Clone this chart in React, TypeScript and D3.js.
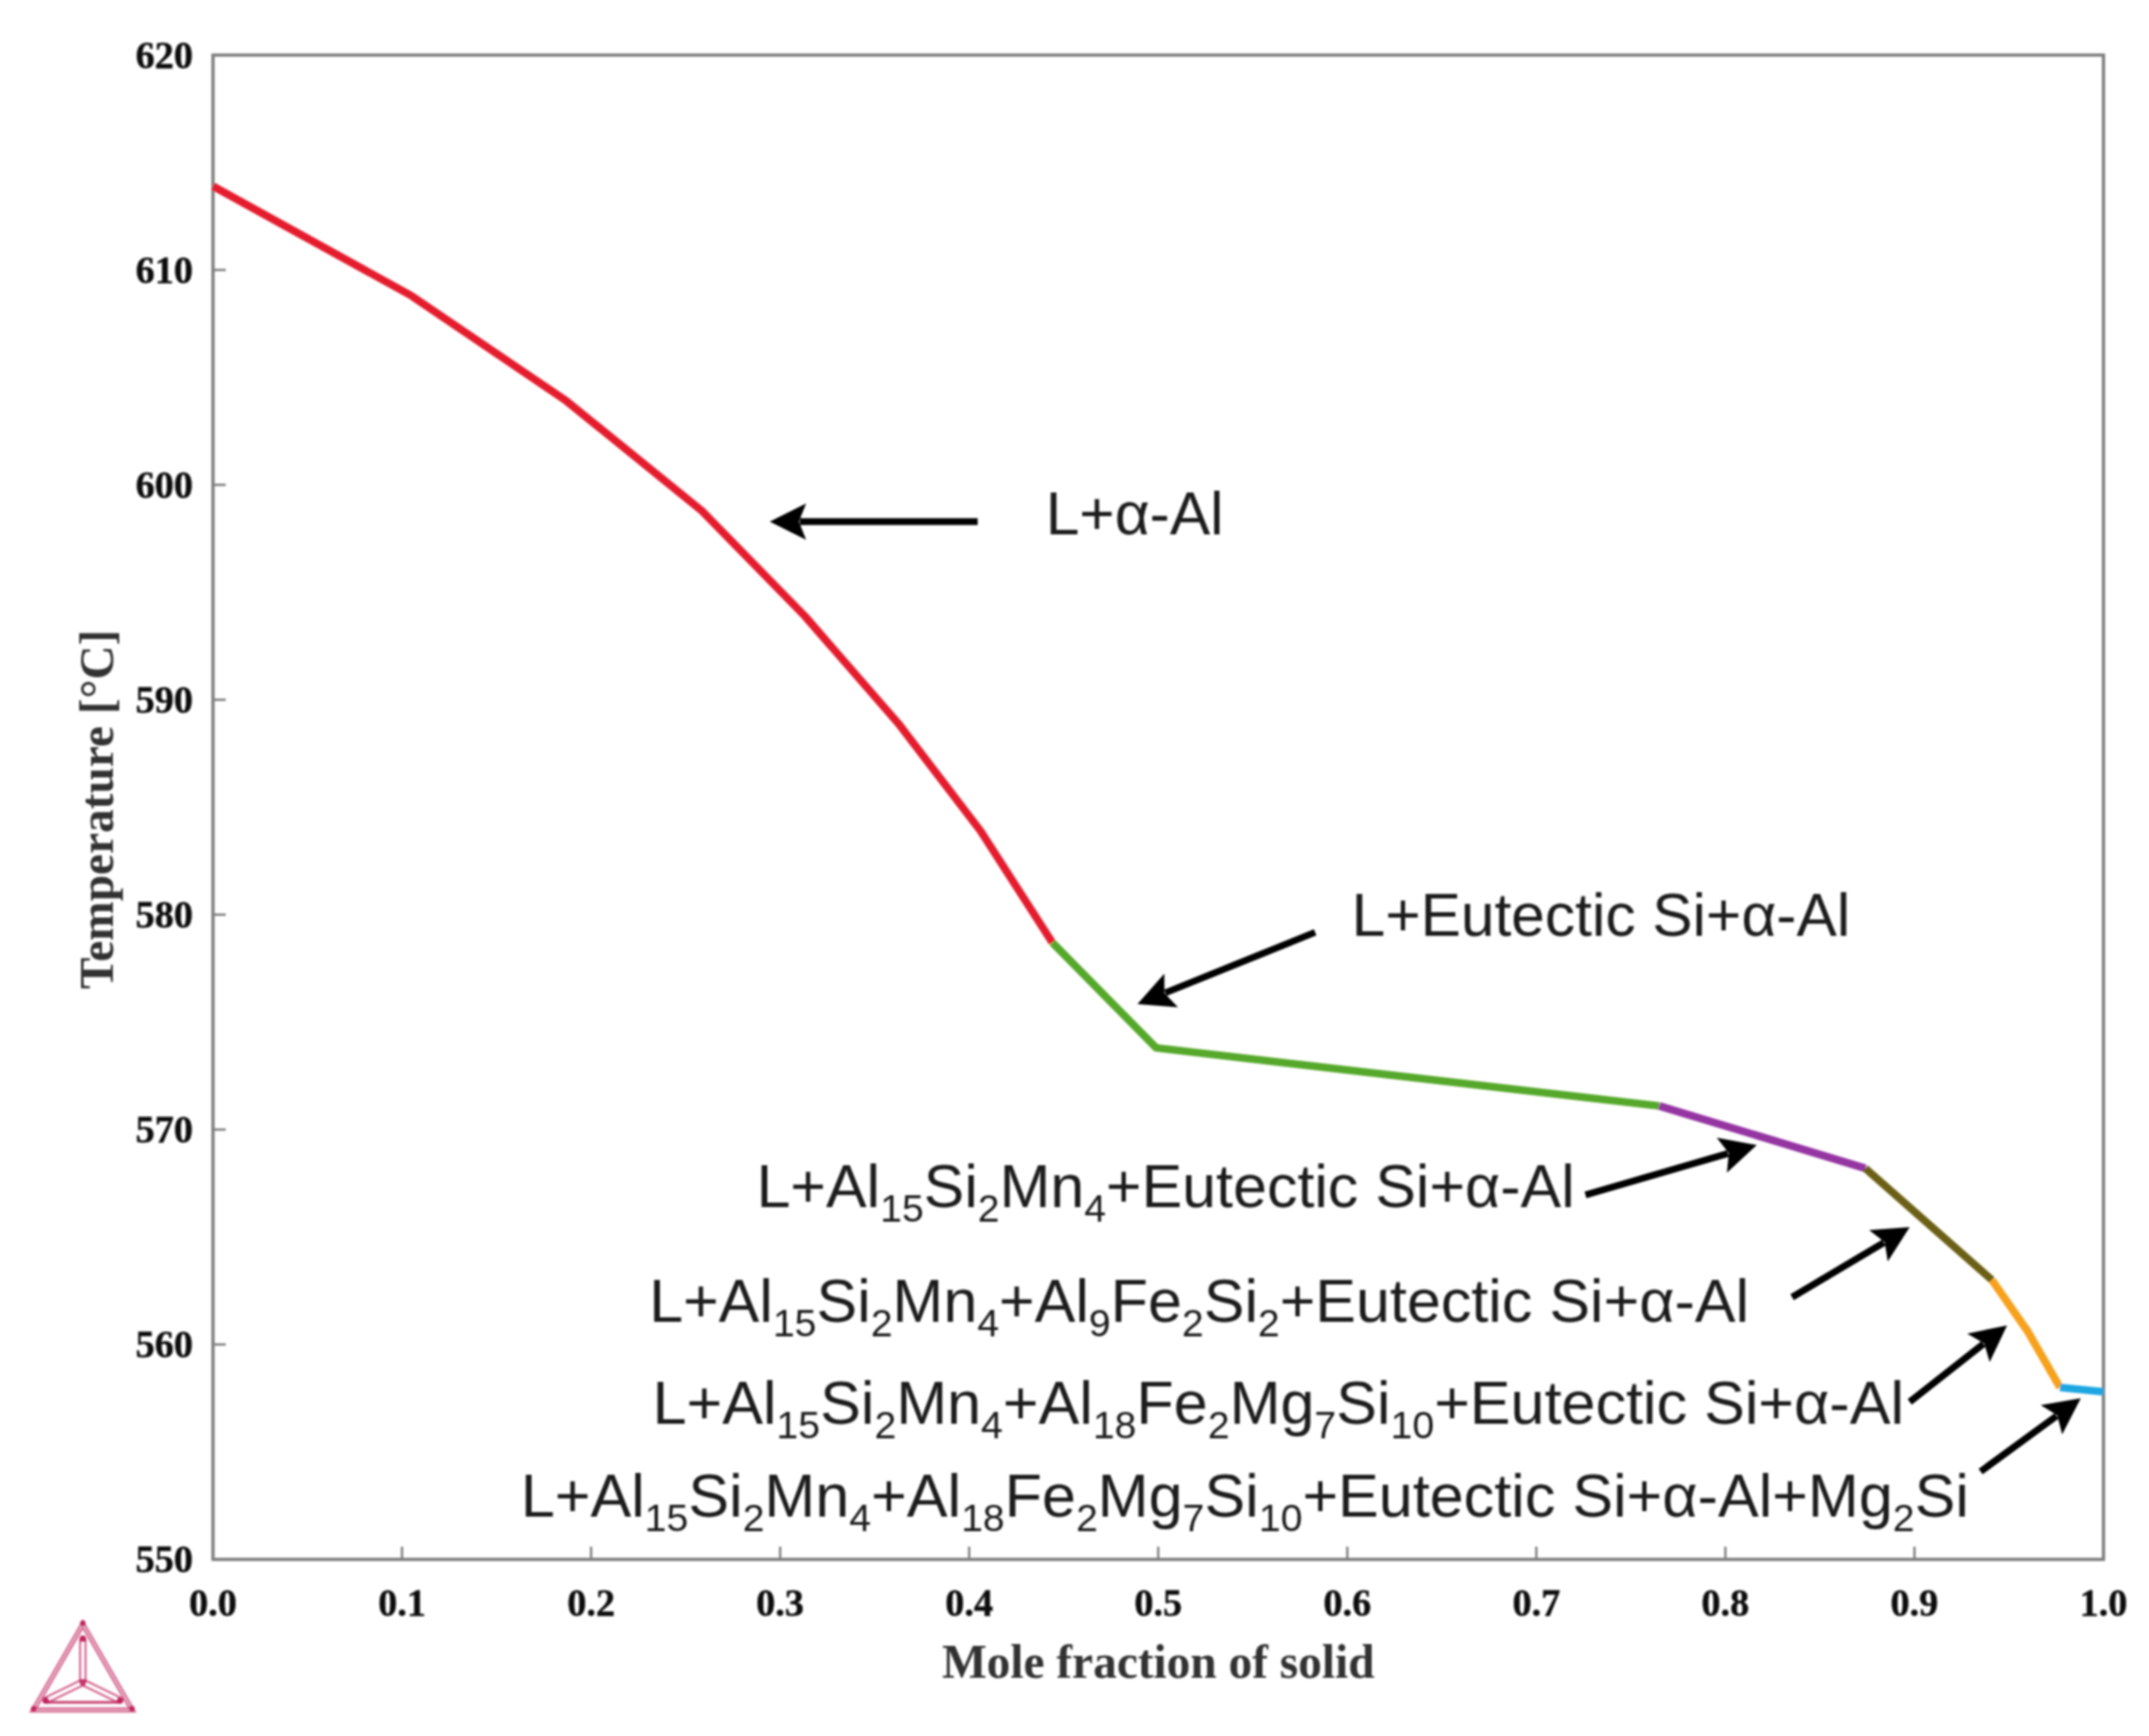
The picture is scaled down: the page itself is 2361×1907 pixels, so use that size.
import React from "react";
import * as d3 from "d3";

const xTicks = [0, 0.1, 0.2, 0.3, 0.4, 0.5, 0.6, 0.7, 0.8, 0.9, 1.0];
const yTicks = [550, 560, 570, 580, 590, 600, 610, 620];

const redX = [0, 0.105, 0.187, 0.2585, 0.313, 0.3625, 0.406, 0.444];
const redT = [613.9, 608.8, 603.9, 598.8, 593.9, 588.9, 583.9, 578.7];
const greenX = [0.444, 0.499, 0.765];
const greenT = [578.7, 573.8, 571.1];
const purpleX = [0.765, 0.874];
const purpleT = [571.1, 568.2];
const oliveX = [0.874, 0.941];
const oliveT = [568.2, 563.0];
const orangeX = [0.941, 0.96, 0.977];
const orangeT = [563.0, 560.6, 558.0];
const blueX = [0.977, 1.0];
const blueT = [558.0, 557.8];

const seriesColors = ["#e41f2d", "#55a82c", "#9536a2", "#6c6115", "#f7a11e", "#1ca6e2"];
const seriesX = [redX, greenX, purpleX, oliveX, orangeX, blueX];
const seriesT = [redT, greenT, purpleT, oliveT, orangeT, blueT];

// arrows: tail x, tail T, tip x, tip T
const arrowTailX = [0.4045, 0.583, 0.726, 0.8353, 0.8975, 0.935];
const arrowTailT = [598.29, 579.18, 566.96, 562.2, 557.33, 554.09];
const arrowTipX = [0.2945, 0.489, 0.8166, 0.8975, 0.949, 0.988];
const arrowTipT = [598.29, 575.84, 569.28, 565.46, 560.89, 557.5];

// labels: "_" prefix marks a subscript
const labelParts = [
  ["L+α-Al"],
  ["L+Eutectic Si+α-Al"],
  ["L+Al", "_15", "Si", "_2", "Mn", "_4", "+Eutectic Si+α-Al"],
  ["L+Al", "_15", "Si", "_2", "Mn", "_4", "+Al", "_9", "Fe", "_2", "Si", "_2", "+Eutectic Si+α-Al"],
  ["L+Al", "_15", "Si", "_2", "Mn", "_4", "+Al", "_18", "Fe", "_2", "Mg", "_7", "Si", "_10", "+Eutectic Si+α-Al"],
  ["L+Al", "_15", "Si", "_2", "Mn", "_4", "+Al", "_18", "Fe", "_2", "Mg", "_7", "Si", "_10", "+Eutectic Si+α-Al+Mg", "_2", "Si"],
];
const labelX0 = [0.4405, 0.6023, 0.2875, 0.2307, 0.2325, 0.1628];
const labelX1 = [0.5346, 0.866, 0.7203, 0.8125, 0.8945, 0.9288];
const labelT = [597.7, 579.0, 566.4, 561.05, 556.3, 552.0];

const W = 2361;
const H = 1907;
const x = d3.scaleLinear().domain([0, 1]).range([234, 2311]);
const y = d3.scaleLinear().domain([550, 620]).range([1713, 60.5]);
const frameColor = "#7d7d7d";
const serif = "'Liberation Serif', serif";
const sans = "'Liberation Sans', sans-serif";

function arrowHead(x0: number, y0: number, x1: number, y1: number) {
  const len = Math.hypot(x1 - x0, y1 - y0);
  const ux = (x1 - x0) / len, uy = (y1 - y0) / len;
  const nx = -uy, ny = ux;
  const L = 40, B = 20, N = 32;
  const p = [
    [x1, y1],
    [x1 - ux * L + nx * B, y1 - uy * L + ny * B],
    [x1 - ux * N, y1 - uy * N],
    [x1 - ux * L - nx * B, y1 - uy * L - ny * B],
  ];
  return "M" + p.map((q) => q.join(",")).join("L") + "Z";
}

function Logo() {
  const c = "#c0255c";
  const T = (s: number) => {
    const pts = [[91, 1847 - 66 * s], [91 + 57 * s, 1847 + 33 * s], [91 - 57 * s, 1847 + 33 * s]];
    return pts.map((p) => p.join(",")).join(" ");
  };
  const hub = [91, 1848];
  const inner = [[91, 1800], [132, 1868], [50, 1868]];
  return (
    <g fill="none" stroke={c}>
      <polygon points={T(1)} strokeWidth={2.5} opacity={0.65} />
      <polygon points={T(0.9)} strokeWidth={2.5} opacity={0.65} />
      {inner.map((p, i) => {
        const dx = p[0] - hub[0], dy = p[1] - hub[1];
        const len = Math.hypot(dx, dy);
        const ox = (-dy / len) * 3, oy = (dx / len) * 3;
        return (
          <g key={i}>
            <line x1={hub[0] + ox} y1={hub[1] + oy} x2={p[0] + ox} y2={p[1] + oy} strokeWidth={2.2} opacity={0.7} />
            <line x1={hub[0] - ox} y1={hub[1] - oy} x2={p[0] - ox} y2={p[1] - oy} strokeWidth={2.2} opacity={0.7} />
            <circle cx={p[0]} cy={p[1]} r={3.5} fill={c} stroke="none" />
          </g>
        );
      })}
      <circle cx={91} cy={1848} r={3.5} fill={c} stroke="none" opacity={0.9} />
      <circle cx={91} cy={1783} r={3} fill={c} stroke="none" />
      <circle cx={37} cy={1877} r={3} fill={c} stroke="none" />
      <circle cx={145} cy={1877} r={3} fill={c} stroke="none" />
      <line x1={50} y1={1870} x2={132} y2={1870} strokeWidth={3} opacity={0.85} />
    </g>
  );
}

export default function App() {
  return (
    <svg
      width={W}
      height={H}
      viewBox={`0 0 ${W} ${H}`}
      style={{ position: "absolute", left: 0, top: 0, display: "block", background: "#fff" }}
    >
      <defs>
        <filter id="soft" x="0" y="0" width={W} height={H} filterUnits="userSpaceOnUse">
          <feGaussianBlur stdDeviation="0.8" />
        </filter>
      </defs>
      <g filter="url(#soft)">
        <rect x={x(0)} y={y(620)} width={x(1) - x(0)} height={y(550) - y(620)} fill="none" stroke={frameColor} strokeWidth={3.5} />
        {xTicks.slice(1, -1).map((t) => (
          <line key={t} x1={x(t)} x2={x(t)} y1={y(550)} y2={y(550) - 14} stroke={frameColor} strokeWidth={2.5} />
        ))}
        {yTicks.slice(1, -1).map((t) => (
          <line key={t} y1={y(t)} y2={y(t)} x1={x(0)} x2={x(0) + 14} stroke={frameColor} strokeWidth={2.5} />
        ))}
        <g fontFamily={serif} fontWeight="bold" fontSize={42} fill="#111" stroke="#111" strokeWidth={0.5}>
          {yTicks.map((t) => (
            <text key={t} x={212} y={y(t) + 14} textAnchor="end">{t}</text>
          ))}
          {xTicks.map((t) => (
            <text key={t} x={x(t)} y={1775} textAnchor="middle">{t.toFixed(1)}</text>
          ))}
        </g>
        <text x={(1035 + 1510) / 2} y={1843} textAnchor="middle" fontFamily={serif} fontWeight="bold" fontSize={52} fill="#333">
          Mole fraction of solid
        </text>
        <text
          transform="translate(124,889) rotate(-90)"
          textAnchor="middle"
          fontFamily={serif}
          fontWeight="bold"
          fontSize={52}
          fill="#333"
        >
          Temperature [°C]
        </text>
        {seriesX.map((xs, i) => {
          const gen = d3
            .line<number>()
            .x((d) => x(d))
            .y((_, j) => y(seriesT[i][j]));
          return (
            <path key={i} d={gen(xs) ?? ""} fill="none" stroke={seriesColors[i]} strokeWidth={8.5} strokeLinejoin="round" />
          );
        })}
        {arrowTailX.map((_, i) => {
          const x0 = x(arrowTailX[i]), y0 = y(arrowTailT[i]);
          const x1 = x(arrowTipX[i]), y1 = y(arrowTipT[i]);
          const len = Math.hypot(x1 - x0, y1 - y0);
          const ex = x1 - ((x1 - x0) / len) * 33, ey = y1 - ((y1 - y0) / len) * 33;
          return (
            <g key={i}>
              <line x1={x0} y1={y0} x2={ex} y2={ey} stroke="#000" strokeWidth={7.5} />
              <path d={arrowHead(x0, y0, x1, y1)} fill="#000" />
            </g>
          );
        })}
        <g fontFamily={sans} fontSize={67} fill="#1a1a1a">
          {labelParts.map((parts, i) => {
            let subOn = false;
            return (
              <text
                key={i}
                x={x(labelX0[i])}
                y={y(labelT[i])}
                textLength={x(labelX1[i]) - x(labelX0[i])}
                lengthAdjust="spacingAndGlyphs"
              >
                {parts.map((p, j) => {
                  const isSub = p.startsWith("_");
                  const dy = isSub && !subOn ? 16 : !isSub && subOn ? -16 : 0;
                  subOn = isSub;
                  return (
                    <tspan key={j} dy={dy} fontSize={isSub ? 43 : 67}>
                      {isSub ? p.slice(1) : p}
                    </tspan>
                  );
                })}
              </text>
            );
          })}
        </g>
        <Logo />
      </g>
    </svg>
  );
}
